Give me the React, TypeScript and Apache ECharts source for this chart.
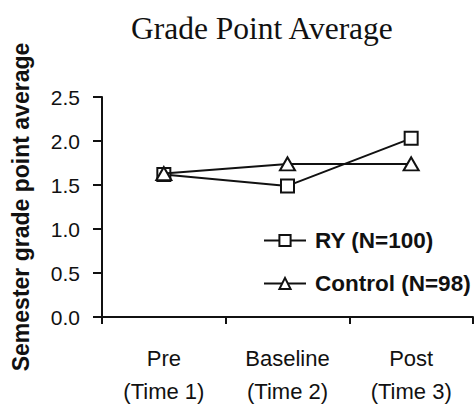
import React, { useEffect, useRef } from "react";
import * as echarts from "echarts";

const categories = ["Pre\n(Time 1)", "Baseline\n(Time 2)", "Post\n(Time 3)"];
const ryValues = [1.62, 1.49, 2.03];
const controlValues = [1.63, 1.74, 1.74];
const seriesNames = ["RY (N=100)", "Control (N=98)"];
const titleText = "Grade Point Average";
const yAxisName = "Semester grade point average";

export default function App() {
  const ref = useRef<HTMLDivElement>(null);
  useEffect(() => {
    if (!ref.current) return;
    const chart = echarts.init(ref.current, undefined, { renderer: "svg" });
    const sans = "'Liberation Sans', Arial, sans-serif";
    chart.setOption({
      animation: false,
      backgroundColor: "#ffffff",
      title: {
        text: titleText,
        left: 131,
        top: 12,
        padding: 0,
        textStyle: {
          fontFamily: "'Liberation Serif', 'Times New Roman', serif",
          fontWeight: "normal",
          fontSize: 31.5,
          color: "#111",
        },
      },
      legend: {
        orient: "vertical",
        left: 263,
        top: 229,
        padding: 0,
        itemWidth: 42,
        itemHeight: 14,
        itemGap: 20,
        data: seriesNames,
        textStyle: {
          fontFamily: sans,
          fontWeight: "bold",
          fontSize: 22.5,
          color: "#111",
          lineHeight: 23,
          padding: [0, 0, 0, 4],
        },
      },
      grid: { left: 102, top: 97, right: 2, bottom: 91 },
      xAxis: {
        type: "category",
        data: categories,
        boundaryGap: true,
        axisLine: { lineStyle: { color: "#111", width: 2 } },
        axisTick: { show: true, length: 7, lineStyle: { color: "#111", width: 2 } },
        axisLabel: {
          color: "#111",
          fontFamily: sans,
          fontSize: 22,
          lineHeight: 33,
          margin: 25,
        },
        splitLine: { show: false },
      },
      yAxis: {
        type: "value",
        min: 0,
        max: 2.5,
        interval: 0.5,
        name: yAxisName,
        nameLocation: "middle",
        nameGap: 70,
        nameTextStyle: {
          fontFamily: sans,
          fontWeight: "bold",
          fontSize: 23,
          color: "#111",
        },
        axisLine: { show: true, lineStyle: { color: "#111", width: 2 } },
        axisTick: { show: true, length: 9, lineStyle: { color: "#111", width: 2 } },
        axisLabel: {
          color: "#111",
          fontFamily: sans,
          fontSize: 21,
          margin: 22,
          formatter: (v: number) => v.toFixed(1),
        },
        splitLine: { show: false },
      },
      series: [
        {
          name: seriesNames[0],
          type: "line",
          data: ryValues,
          symbol: "rect",
          symbolSize: 13,
          lineStyle: { color: "#111", width: 2 },
          itemStyle: { color: "#fff", borderColor: "#111", borderWidth: 2 },
          z: 2,
        },
        {
          name: seriesNames[1],
          type: "line",
          data: controlValues,
          symbol: "triangle",
          symbolSize: [15, 13],
          lineStyle: { color: "#111", width: 2 },
          itemStyle: { color: "#fff", borderColor: "#111", borderWidth: 2 },
          z: 3,
        },
      ],
    });
    return () => chart.dispose();
  }, []);
  return <div ref={ref} style={{ width: 475, height: 408, position: "absolute", left: 0, top: 0 }} />;
}
